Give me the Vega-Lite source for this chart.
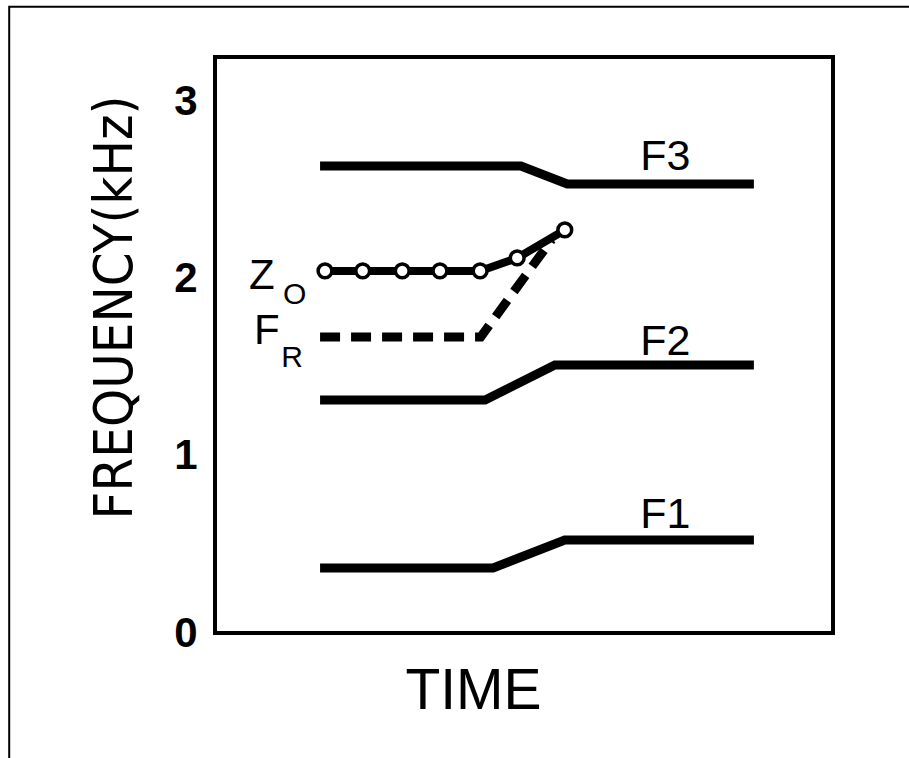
{
  "$schema": "https://vega.github.io/schema/vega-lite/v6.json",
  "autosize": "none",
  "width": 618,
  "height": 576,
  "padding": {"left": 215, "top": 57, "right": 76, "bottom": 125},
  "background": "white",
  "config": {
    "view": {"stroke": "black", "strokeWidth": 4},
    "font": "Liberation Sans"
  },
  "datasets": {
    "formants": [
      {"series": "F3", "t": 1.7, "f": 2.635, "o": 1},
      {"series": "F3", "t": 4.95, "f": 2.635, "o": 2},
      {"series": "F3", "t": 5.7, "f": 2.534, "o": 3},
      {"series": "F3", "t": 8.72, "f": 2.534, "o": 4},
      {"series": "F2", "t": 1.7, "f": 1.315, "o": 1},
      {"series": "F2", "t": 4.37, "f": 1.315, "o": 2},
      {"series": "F2", "t": 5.5, "f": 1.512, "o": 3},
      {"series": "F2", "t": 8.72, "f": 1.512, "o": 4},
      {"series": "F1", "t": 1.7, "f": 0.367, "o": 1},
      {"series": "F1", "t": 4.5, "f": 0.367, "o": 2},
      {"series": "F1", "t": 5.66, "f": 0.525, "o": 3},
      {"series": "F1", "t": 8.72, "f": 0.525, "o": 4}
    ],
    "zo": [
      {"t": 1.78, "f": 2.043, "o": 1},
      {"t": 2.39, "f": 2.043, "o": 2},
      {"t": 3.03, "f": 2.043, "o": 3},
      {"t": 3.64, "f": 2.043, "o": 4},
      {"t": 4.29, "f": 2.043, "o": 5},
      {"t": 4.89, "f": 2.116, "o": 6},
      {"t": 5.66, "f": 2.274, "o": 7}
    ],
    "fr": [
      {"t": 1.7, "f": 1.67, "o": 1},
      {"t": 4.3, "f": 1.67, "o": 2},
      {"t": 5.45, "f": 2.22, "o": 3}
    ],
    "labels": [
      {"t": 6.88, "f": 2.686, "text": "F3", "size": 43},
      {"t": 6.88, "f": 1.642, "text": "F2", "size": 43},
      {"t": 6.88, "f": 0.666, "text": "F1", "size": 43},
      {"t": 0.55, "f": 2.015, "text": "Z", "size": 42},
      {"t": 1.1, "f": 1.905, "text": "O", "size": 30},
      {"t": 0.63, "f": 1.704, "text": "F", "size": 42},
      {"t": 1.07, "f": 1.55, "text": "R", "size": 30}
    ],
    "border": [
      {"t": 11.4, "f": 3.533, "o": 1},
      {"t": -3.33, "f": 3.533, "o": 2},
      {"t": -3.33, "f": -0.72, "o": 3}
    ]
  },
  "encoding": {
    "x": {
      "field": "t", "type": "quantitative",
      "scale": {"domain": [0, 10], "nice": false, "zero": false},
      "axis": {
        "labels": false, "ticks": false, "domain": false, "grid": false,
        "title": "TIME", "titleFont": "Liberation Sans", "titleFontSize": 57,
        "titleFontWeight": "normal", "titleColor": "black",
        "titleX": 258, "titleY": 58, "titleBaseline": "middle", "titleAlign": "center"
      }
    },
    "y": {
      "field": "f", "type": "quantitative",
      "scale": {"domain": [0, 3.25], "nice": false, "zero": false},
      "axis": {
        "values": [0, 1, 2, 3], "ticks": false, "domain": false, "grid": false,
        "labelFont": "Liberation Sans", "labelFontSize": 42, "labelFontWeight": "bold", "labelColor": "black",
        "labelPadding": 18, "labelBaseline": "middle",
        "title": "FREQUENCY(kHz)", "titleFont": "DejaVu Sans Condensed, Liberation Sans", "titleFontSize": 54,
        "titleFontWeight": "normal", "titleColor": "black",
        "titleX": -100, "titleY": 250, "titleAngle": -90, "titleAlign": "center", "titleBaseline": "middle"
      }
    }
  },
  "layer": [
    {
      "data": {"name": "border"},
      "mark": {"type": "line", "color": "black", "strokeWidth": 2, "clip": false},
      "encoding": {"order": {"field": "o"}}
    },
    {
      "data": {"name": "formants"},
      "mark": {"type": "line", "color": "black", "strokeWidth": 9},
      "encoding": {"detail": {"field": "series"}, "order": {"field": "o"}}
    },
    {
      "data": {"name": "fr"},
      "mark": {"type": "line", "color": "black", "strokeWidth": 9, "strokeDash": [20, 11]},
      "encoding": {"order": {"field": "o"}}
    },
    {
      "data": {"name": "zo"},
      "mark": {"type": "line", "color": "black", "strokeWidth": 8},
      "encoding": {"order": {"field": "o"}}
    },
    {
      "data": {"name": "zo"},
      "mark": {"type": "point", "shape": "circle", "filled": true, "fill": "white", "stroke": "black", "strokeWidth": 3.5, "size": 190, "opacity": 1}
    },
    {
      "data": {"name": "labels"},
      "mark": {"type": "text", "align": "left", "baseline": "middle", "color": "black", "font": "Liberation Sans"},
      "encoding": {
        "text": {"field": "text"},
        "size": {"field": "size", "type": "quantitative", "scale": null}
      }
    }
  ]
}
